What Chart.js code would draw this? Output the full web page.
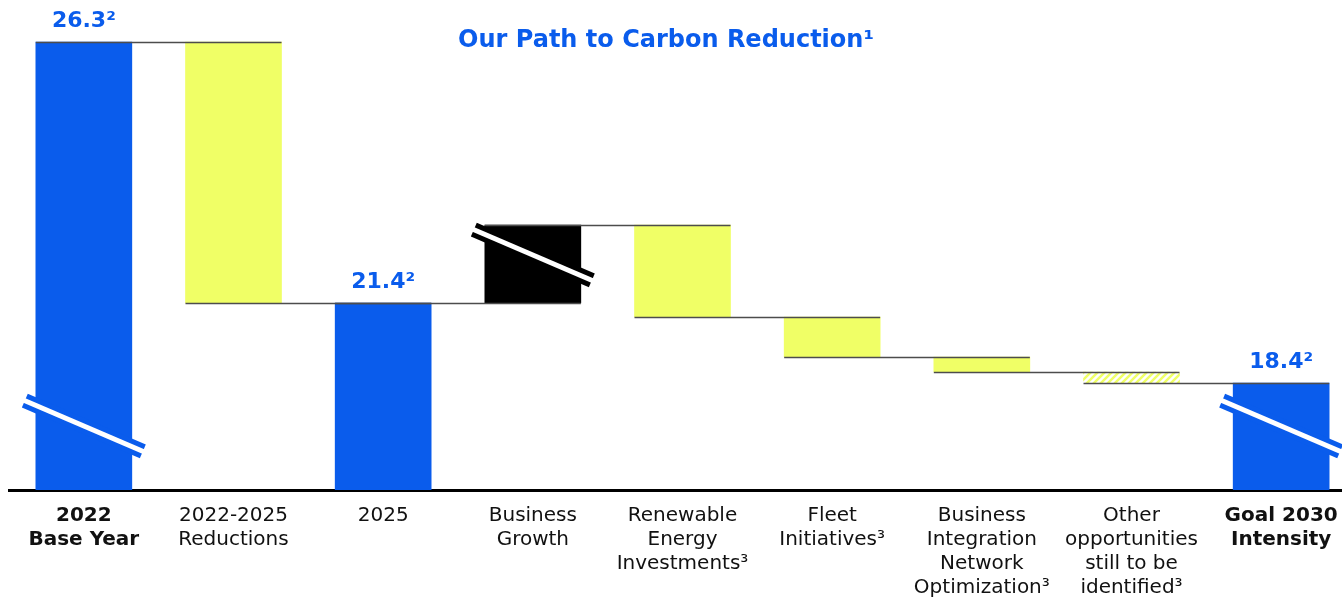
<!DOCTYPE html>
<html>
<head>
<meta charset="utf-8">
<script src="https://cdn.jsdelivr.net/npm/chart.js@4.4.0/dist/chart.umd.min.js"></script>
<style>
html, body { margin: 0; padding: 0; background: #fff; overflow: hidden; }
canvas { display: block; }
</style>
</head>
<body>
<canvas id="myChart" width="1360" height="614"></canvas>
<script>
// The original chart uses a broken axis (not to scale), so the bar levels
// below are read as drawn: height above the baseline, in pixels.
var categories = [
    ["2022", "Base Year"],
    ["2022-2025", "Reductions"],
    ["2025"],
    ["Business", "Growth"],
    ["Renewable", "Energy", "Investments³"],
    ["Fleet", "Initiatives³"],
    ["Business", "Integration", "Network", "Optimization³"],
    ["Other", "opportunities", "still to be", "identified³"],
    ["Goal 2030", "Intensity"]
];
var barStart = [0, 187, 0, 187, 173, 133, 118, 107, 0];
var barEnd = [448, 448, 187, 265, 265, 173, 133, 118, 107];
var barKinds = ["total", "reduction", "total", "growth", "reduction", "reduction", "reduction", "unidentified", "total"];
var valueLabels = ["26.3²", "", "21.4²", "", "", "", "", "", "18.4²"];
var breakLevels = [64, null, null, 235, null, null, null, null, 64];
var chartTitle = "Our Path to Carbon Reduction¹";

var BLUE = '#0a5cec';
var YELLOW = '#f0ff66';
var BLACK = '#000000';
var LINE = '#4d4d4d';
var FONT = "'DejaVu Sans', sans-serif";

function hatchPattern() {
    var c = document.createElement('canvas');
    c.width = 7; c.height = 7;
    var g = c.getContext('2d');
    g.strokeStyle = YELLOW;
    g.lineWidth = 2.5;
    g.beginPath();
    g.moveTo(-2, 9); g.lineTo(9, -2);
    g.moveTo(-2, 2); g.lineTo(2, -2);
    g.moveTo(5, 9); g.lineTo(9, 5);
    g.stroke();
    return g.createPattern(c, 'repeat');
}

var hatch = hatchPattern();
var barColors = barKinds.map(function(k) {
    if (k == "total") return BLUE;
    if (k == "growth") return BLACK;
    if (k == "unidentified") return hatch;
    return YELLOW;
});

var barData = [];
for (var i = 0; i < barStart.length; i++) {
    barData.push([barStart[i], barEnd[i]]);
}

var waterfallExtras = {
    id: 'waterfallExtras',
    afterDatasetsDraw: function(chart) {
        var ctx = chart.ctx;
        var meta = chart.getDatasetMeta(0);
        var y = chart.scales.y;
        ctx.save();

        // connector lines between neighbouring bars
        ctx.strokeStyle = LINE;
        ctx.lineWidth = 1.6;
        for (var i = 0; i < meta.data.length - 1; i++) {
            var a = [barStart[i], barEnd[i]];
            var b = [barStart[i + 1], barEnd[i + 1]];
            var level = null;
            a.forEach(function(v) {
                if (v > 0 && b.indexOf(v) >= 0) level = v;
            });
            if (level === null) continue;
            var e1 = meta.data[i].getProps(['x', 'width'], true);
            var e2 = meta.data[i + 1].getProps(['x', 'width'], true);
            var py = Math.round(y.getPixelForValue(level)) + 0.5;
            ctx.beginPath();
            ctx.moveTo(e1.x - e1.width / 2, py);
            ctx.lineTo(e2.x + e2.width / 2, py);
            ctx.stroke();
        }

        // axis break marks
        ctx.lineCap = 'butt';
        for (var j = 0; j < meta.data.length; j++) {
            if (breakLevels[j] === null) continue;
            var el = meta.data[j].getProps(['x', 'width'], true);
            var cy = y.getPixelForValue(breakLevels[j]);
            var half = el.width / 2 + 11;
            var slope = 0.43;
            ctx.strokeStyle = barColors[j];
            ctx.lineWidth = 15;
            ctx.beginPath();
            ctx.moveTo(el.x - half, cy - half * slope);
            ctx.lineTo(el.x + half, cy + half * slope);
            ctx.stroke();
            ctx.strokeStyle = '#ffffff';
            ctx.lineWidth = 5;
            ctx.beginPath();
            ctx.moveTo(el.x - half - 1, cy - (half + 1) * slope);
            ctx.lineTo(el.x + half + 1, cy + (half + 1) * slope);
            ctx.stroke();
        }
        ctx.restore();
    },
    afterDraw: function(chart) {
        var ctx = chart.ctx;
        var meta = chart.getDatasetMeta(0);
        var y = chart.scales.y;
        ctx.save();
        ctx.fillStyle = BLUE;
        ctx.textAlign = 'center';
        ctx.textBaseline = 'alphabetic';

        ctx.font = "bold 24px " + FONT;
        ctx.fillText(chartTitle, 666, 47);

        ctx.font = "bold 22px " + FONT;
        for (var i = 0; i < meta.data.length; i++) {
            if (!valueLabels[i]) continue;
            var el = meta.data[i];
            ctx.fillText(valueLabels[i], el.x, y.getPixelForValue(barEnd[i]) - 15);
        }
        ctx.restore();
    }
};

window.onload = function() {
    var ctx = document.getElementById("myChart");
    var myChart = new Chart(ctx, {
        type: 'bar',
        data: {
            labels: categories,
            datasets: [{
                data: barData,
                backgroundColor: barColors,
                borderWidth: 0,
                barThickness: 96
            }]
        },
        options: {
            responsive: false,
            animation: false,
            devicePixelRatio: 1,
            layout: { padding: { left: 9, right: 4, top: 10, bottom: 0 } },
            plugins: {
                legend: { display: false },
                tooltip: { enabled: false }
            },
            scales: {
                x: {
                    grid: { display: false, drawTicks: false },
                    border: { display: true, color: '#000000', width: 3 },
                    ticks: {
                        autoSkip: false,
                        maxRotation: 0,
                        padding: 14,
                        color: '#111111',
                        font: function(c) {
                            var bold = c.index === 0 || c.index === categories.length - 1;
                            return { family: FONT, size: 20, weight: bold ? 'bold' : 'normal', lineHeight: 1.2 };
                        }
                    }
                },
                y: {
                    display: false,
                    min: 0,
                    max: 480
                }
            }
        },
        plugins: [waterfallExtras]
    });
};
</script>
</body>
</html>
